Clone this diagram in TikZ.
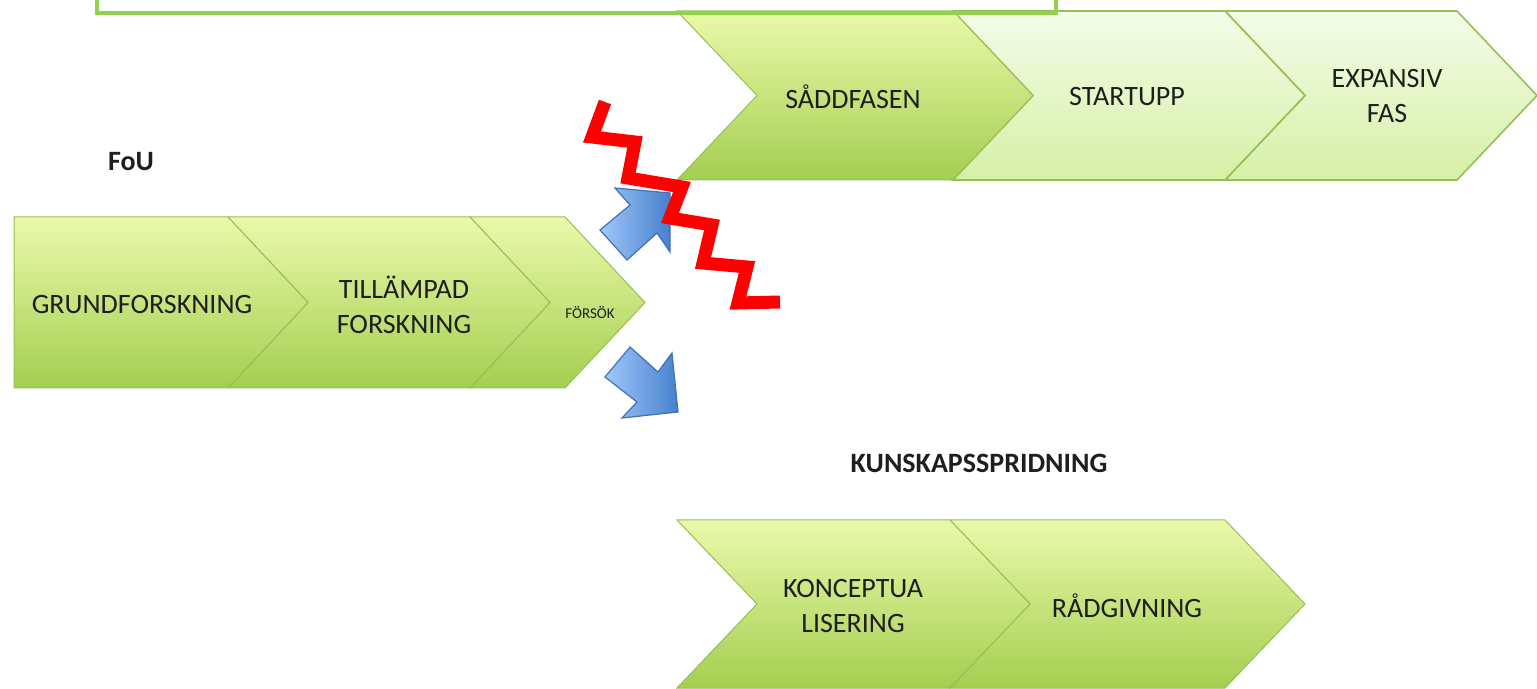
\documentclass[tikz,border=0pt]{standalone}
\usepackage{fontspec}
\setmainfont{Carlito}
\usepackage{xcolor}
\usetikzlibrary{positioning,calc}

\definecolor{chevtop}{RGB}{234,249,170}
\definecolor{chevbot}{RGB}{164,206,80}
\definecolor{palechevtop}{RGB}{244,252,232}
\definecolor{palechevbot}{RGB}{214,240,166}
\definecolor{chevline}{RGB}{150,192,84}
\definecolor{framegreen}{RGB}{146,208,80}
\definecolor{arrowlight}{RGB}{160,200,250}
\definecolor{arrowdark}{RGB}{70,128,205}
\definecolor{arrowline}{RGB}{66,112,180}
\definecolor{txtgray}{RGB}{30,30,30}

\begin{document}
\begin{tikzpicture}[x=0.5pt, y=-0.5pt,
    chev/.style={top color=chevtop, bottom color=chevbot, draw=chevline, line width=0.5pt},
    palechev/.style={top color=palechevtop, bottom color=palechevbot, draw=chevline, line width=0.8pt},
    lbl/.style={font=\fontsize{14}{17.5}\selectfont, text=txtgray, align=center, inner sep=0pt},
    head/.style={font=\fontsize{14}{17}\selectfont\bfseries, text=txtgray, inner sep=0pt},
    bluearrow/.style={left color=arrowlight, right color=arrowdark, draw=arrowline, line width=0.6pt, line join=miter},
    zigzag/.style={draw=red, line width=6.5pt, line join=miter}]
    \useasboundingbox (0,0) rectangle (1537,689);

    % top row
    \shade[palechev] (1225,11) -- (1457,11) -- (1537,95.5) -- (1457,180) -- (1225,180) -- (1305,95.5) -- cycle;
    \shade[palechev] (953,11) -- (1225,11) -- (1305,95.5) -- (1225,180) -- (953,180) -- (1033,95.5) -- cycle;
    \shade[chev] (677,11) -- (953,11) -- (1033,95.5) -- (953,180) -- (677,180) -- (757,95.5) -- cycle;
    \node[lbl] (sadd) at (853,97) {SÅDDFASEN};
    \node[lbl] (startupp) at (1127,97) {STARTUPP};
    \node[lbl] (expansiv) at (1387,96) {EXPANSIV\\FAS};
    \draw[framegreen, line width=2pt] (97,-40) rectangle (1056,13);

    % FoU row
    \node[head] (fou) at (131,162) {FoU};
    \shade[chev] (470,217) -- (565,217) -- (645,302.5) -- (565,388) -- (470,388) -- (550,302.5) -- cycle;
    \shade[chev] (228,217) -- (470,217) -- (550,302.5) -- (470,388) -- (228,388) -- (308,302.5) -- cycle;
    \shade[chev] (14,217) -- (228,217) -- (308,302.5) -- (228,388) -- (14,388) -- cycle;
    \node[lbl] (grund) at (142,305) {GRUNDFORSKNING};
    \node[lbl] (tillampad) at (404,305) {TILLÄMPAD\\FORSKNING};
    \node[lbl, font=\fontsize{7.5}{9}\selectfont] (forsok) at (590,313) {FÖRSÖK};

    % kunskapsspridning row
    \node[head] (kunskap) at (979,463) {KUNSKAPSSPRIDNING};
    \shade[chev] (950,520) -- (1225,520) -- (1305,604) -- (1225,688) -- (950,688) -- (1030,604) -- cycle;
    \shade[chev] (677,520) -- (950,520) -- (1030,604) -- (950,688) -- (677,688) -- (757,604) -- cycle;
    \node[lbl] (koncept) at (853,606) {KONCEPTUA\\LISERING};
    \node[lbl] (radgiv) at (1127,606) {RÅDGIVNING};

    % blue arrows
    \shade[bluearrow] (615,188) -- (670,193) -- (670,252) -- (657,233) -- (627,260) -- (600,230) -- (630,205) -- cycle;
    \shade[bluearrow] (630,347) -- (658,372) -- (672,353) -- (678,412) -- (622,418) -- (637,402) -- (605,377) -- cycle;

    % red zigzag
    \draw[zigzag] (605,102) -- (592,137) -- (635,142) -- (628,178) -- (682,187) -- (670,218) -- (712,225) -- (703,263) -- (747,267) -- (738,303) -- (780,302);
\end{tikzpicture}
\end{document}
